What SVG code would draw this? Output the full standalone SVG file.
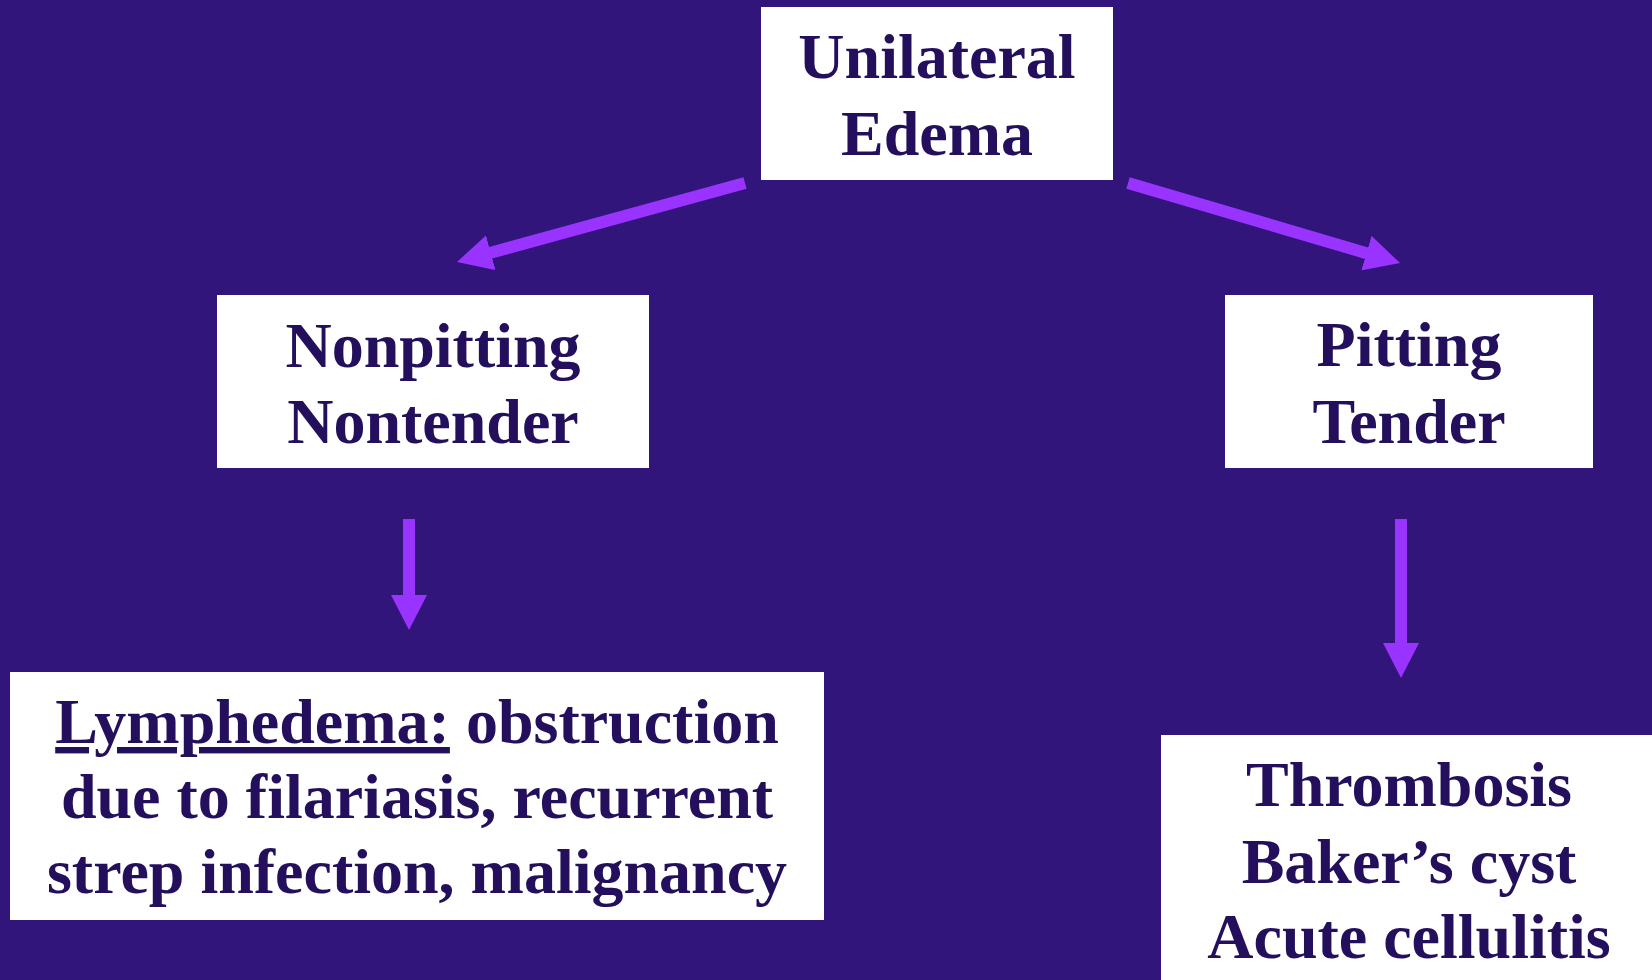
<svg xmlns="http://www.w3.org/2000/svg" width="1652" height="980" viewBox="0 0 1652 980">
<style>
.box{fill:#ffffff}
.t{font-family:"Liberation Serif","Times New Roman",serif;font-weight:bold;font-size:64px;fill:#230F5C;text-anchor:middle}
.c{stroke:#9933FF;stroke-width:12;fill:none;stroke-linecap:butt}
</style>
<defs>
<marker id="ah" markerUnits="userSpaceOnUse" markerWidth="36" markerHeight="36" refX="1" refY="18" orient="auto">
<path d="M0,0 L35,18 L0,36 Z" fill="#9933FF"/>
</marker>
</defs>
<rect width="1652" height="980" fill="#32157A"/>
<g id="connectors">
<line class="c" x1="745" y1="183" x2="489.8" y2="253" marker-end="url(#ah)"/>
<line class="c" x1="1128" y1="183" x2="1367.4" y2="253.4" marker-end="url(#ah)"/>
<line class="c" x1="409" y1="519" x2="409" y2="596" marker-end="url(#ah)"/>
<line class="c" x1="1401" y1="519" x2="1401" y2="644" marker-end="url(#ah)"/>
</g>
<g id="unilateral">
<rect class="box" x="761" y="7" width="352" height="173"/>
<text class="t" x="937" y="78">Unilateral</text>
<text class="t" x="937" y="155">Edema</text>
</g>
<g id="nonpitting">
<rect class="box" x="217" y="295" width="432" height="173"/>
<text class="t" x="433" y="367">Nonpitting</text>
<text class="t" x="433" y="443">Nontender</text>
</g>
<g id="pitting">
<rect class="box" x="1225" y="295" width="368" height="173"/>
<text class="t" x="1409" y="366">Pitting</text>
<text class="t" x="1409" y="443">Tender</text>
</g>
<g id="lymphedema">
<rect class="box" x="10" y="672" width="814" height="248"/>
<text class="t" x="417" y="743"><tspan text-decoration="underline">Lymphedema:</tspan> obstruction</text>
<text class="t" x="417" y="818">due to filariasis, recurrent</text>
<text class="t" x="417" y="893">strep infection, malignancy</text>
</g>
<g id="thrombosis">
<rect class="box" x="1161" y="735" width="500" height="260"/>
<text class="t" x="1409" y="806">Thrombosis</text>
<text class="t" x="1409" y="883">Baker’s cyst</text>
<text class="t" x="1409" y="958">Acute cellulitis</text>
</g>
</svg>
